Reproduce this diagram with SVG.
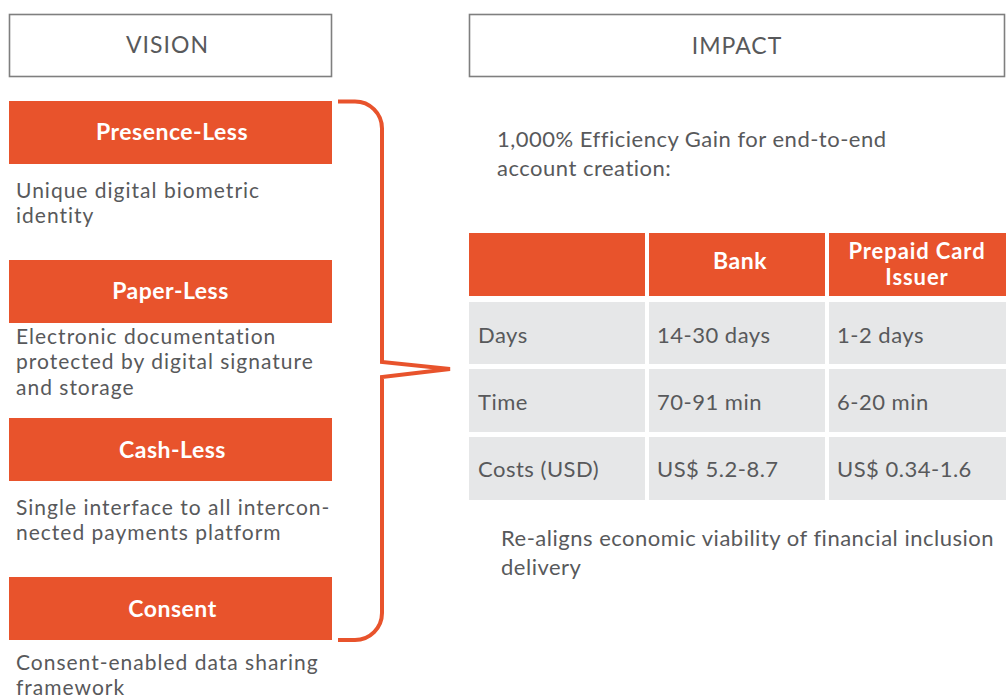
<svg xmlns="http://www.w3.org/2000/svg" width="1006" height="700" viewBox="0 0 1006 700">
<style>
.hdr{fill:#fff;stroke:#7f7f7f;stroke-width:1.6}
.hdrt{font-family:Lato,"Open Sans","Liberation Sans",sans-serif;font-size:23px;fill:#58595b;text-anchor:middle;letter-spacing:1px}
.ob{fill:#e8532c}
.obt{font-family:Lato,"Open Sans","Liberation Sans",sans-serif;font-size:23px;font-weight:bold;fill:#fff;text-anchor:middle;letter-spacing:0.5px}
.obs{font-family:Lato,"Open Sans","Liberation Sans",sans-serif;font-size:22px;font-weight:bold;fill:#fff;text-anchor:middle;letter-spacing:0.9px}
.d{font-family:Lato,"Open Sans","Liberation Sans",sans-serif;font-size:22px;fill:#58595b;letter-spacing:0.5px}
.ds{font-family:Lato,"Open Sans","Liberation Sans",sans-serif;font-size:21px;fill:#58595b;letter-spacing:1px}
.cell{fill:#e6e7e8}
.br{fill:none;stroke:#e8532c;stroke-width:4;stroke-linejoin:miter}
</style>
<rect width="1006" height="700" fill="#fff"/>
<g id="vision">
<rect class="hdr" x="9.5" y="14.5" width="322" height="62"/>
<text class="hdrt" x="167.5" y="53">VISION</text>
</g>
<g id="impact">
<rect class="hdr" x="469.5" y="14.5" width="535" height="62"/>
<text class="hdrt" x="737" y="54">IMPACT</text>
</g>
<g id="presence-less">
<rect class="ob" x="9" y="101" width="323" height="63"/>
<text class="obt" x="172" y="140">Presence-Less</text>
<text class="ds" x="16" y="198">Unique digital biometric<tspan x="16" dy="25.3">identity</tspan></text>
</g>
<g id="paper-less">
<rect class="ob" x="9" y="260" width="323" height="63"/>
<text class="obt" x="170.5" y="299">Paper-Less</text>
<text class="ds" x="16" y="344">Electronic documentation<tspan x="16" dy="25.3">protected by digital signature</tspan><tspan x="16" dy="25.3">and storage</tspan></text>
</g>
<g id="cash-less">
<rect class="ob" x="9" y="418" width="323" height="63"/>
<text class="obt" x="172.5" y="458">Cash-Less</text>
<text class="ds" x="16" y="514.5">Single interface to all intercon-<tspan x="16" dy="25.3">nected payments platform</tspan></text>
</g>
<g id="consent">
<rect class="ob" x="9" y="577" width="323" height="63"/>
<text class="obt" x="172.5" y="617">Consent</text>
<text class="ds" x="16" y="669.5">Consent-enabled data sharing<tspan x="16" dy="25.3">framework</tspan></text>
</g>
<g id="connectors">
<path class="br" d="M338,101.5 H355 A27,27 0 0 1 382,128.5 V362 L450,369 L382,377 V613 A27,27 0 0 1 355,640 H338"/>
</g>
<g id="efficiency">
<text class="d" x="497" y="147">1,000% Efficiency Gain for end-to-end<tspan x="497" dy="29">account creation:</tspan></text>
</g>
<g id="table">
<rect class="ob" x="469" y="233" width="176" height="63"/>
<rect class="ob" x="649" y="233" width="176" height="63"/>
<rect class="ob" x="829" y="233" width="177" height="63"/>
<text class="obt" x="740" y="269">Bank</text>
<text class="obs" x="917" y="259">Prepaid Card<tspan x="917" dy="26.4">Issuer</tspan></text>
<rect class="cell" x="469" y="302" width="176" height="62"/>
<rect class="cell" x="649" y="302" width="176" height="62"/>
<rect class="cell" x="829" y="302" width="177" height="62"/>
<rect class="cell" x="469" y="369" width="176" height="63"/>
<rect class="cell" x="649" y="369" width="176" height="63"/>
<rect class="cell" x="829" y="369" width="177" height="63"/>
<rect class="cell" x="469" y="437" width="176" height="63"/>
<rect class="cell" x="649" y="437" width="176" height="63"/>
<rect class="cell" x="829" y="437" width="177" height="63"/>
<text class="d" x="478" y="343">Days</text>
<text class="d" x="657" y="343">14-30 days</text>
<text class="d" x="837" y="343">1-2 days</text>
<text class="d" x="478" y="410">Time</text>
<text class="d" x="657" y="410">70-91 min</text>
<text class="d" x="837" y="410">6-20 min</text>
<text class="d" x="478" y="477">Costs (USD)</text>
<text class="d" x="657" y="477">US$ 5.2-8.7</text>
<text class="d" x="837" y="477">US$ 0.34-1.6</text>
</g>
<g id="realigns">
<text class="d" x="501" y="546">Re-aligns economic viability of financial inclusion<tspan x="501" dy="29">delivery</tspan></text>
</g>
</svg>
